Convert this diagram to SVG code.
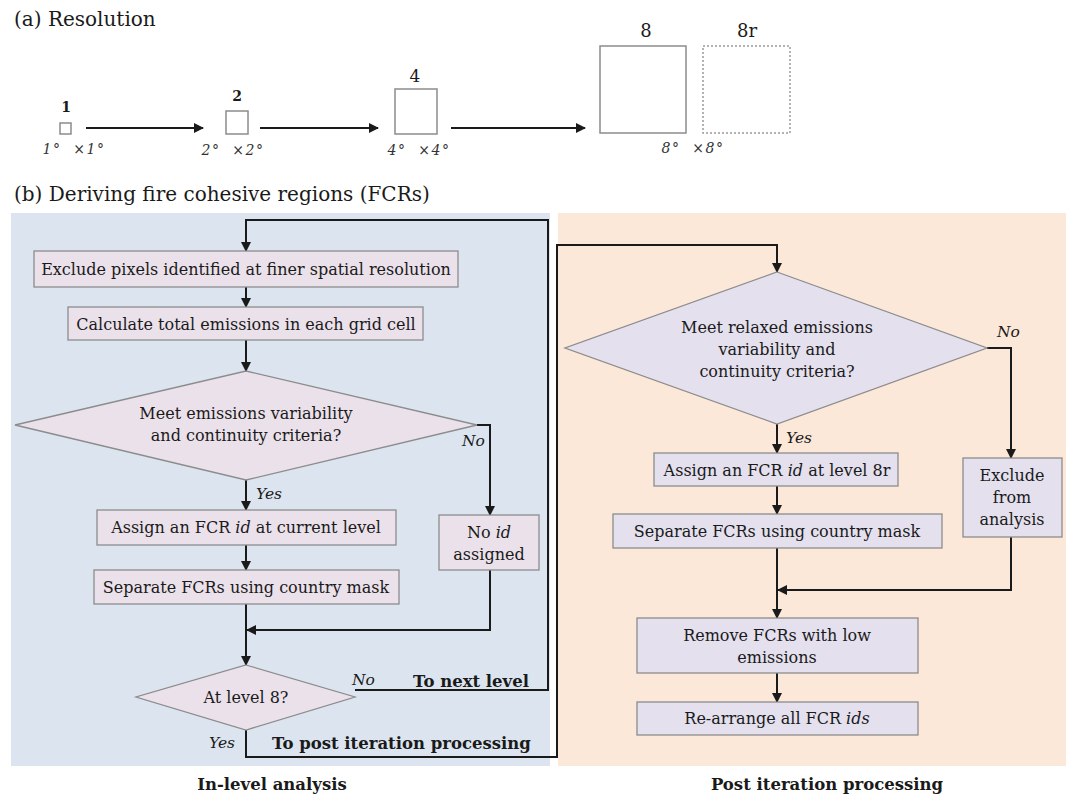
<svg xmlns="http://www.w3.org/2000/svg" width="1073" height="796" viewBox="0 0 1073 796">
<style>
text{font-family:"DejaVu Serif","Liberation Serif",serif;fill:#1a1a1a}
.t{font-size:16px;text-anchor:middle}
.b{font-size:16.5px;font-weight:bold}
.i{font-style:italic}
.lab{font-size:15.5px;font-style:italic}
.box{stroke:#8c8c8c;stroke-width:1.3}
.lb{fill:#ebe1eb}
.rb{fill:#e4e0ee}
.ln{fill:none;stroke:#1a1a1a;stroke-width:2}
.sq{fill:#fff;stroke:#8c8c8c;stroke-width:1.5}
.res{font-size:14px;font-style:italic;fill:#333;text-anchor:middle;letter-spacing:1.5px;word-spacing:6px}
</style>
<defs>
<marker id="ah" viewBox="0 0 10 10" refX="9" refY="5" markerWidth="5" markerHeight="5" orient="auto" markerUnits="strokeWidth">
<path d="M0,0 L10,5 L0,10 z" fill="#1a1a1a"/>
</marker>
</defs>
<rect width="1073" height="796" fill="#fff"/>

<!-- (a) Resolution -->
<g id="resolution">
<text x="14" y="26" font-size="20">(a) Resolution</text>
<rect class="sq" x="60" y="123" width="11" height="11"/>
<text x="66" y="112" font-size="14" font-weight="bold" text-anchor="middle">1</text>
<text class="res" x="74" y="154">1° ×1°</text>
<rect class="sq" x="226" y="111" width="22" height="23"/>
<text x="237" y="101" font-size="14" font-weight="bold" text-anchor="middle">2</text>
<text class="res" x="233" y="155">2° ×2°</text>
<rect class="sq" x="395" y="89" width="42" height="45"/>
<text x="415" y="82" font-size="17" text-anchor="middle">4</text>
<text class="res" x="419" y="155">4° ×4°</text>
<rect class="sq" x="600" y="46" width="86" height="87"/>
<text x="646" y="37" font-size="18" text-anchor="middle">8</text>
<rect x="703" y="46" width="87" height="87" fill="#fff" stroke="#9a9a9a" stroke-width="1.5" stroke-dasharray="2,2"/>
<text x="747" y="37" font-size="18" text-anchor="middle">8r</text>
<text class="res" x="693" y="153">8° ×8°</text>
</g>
<g id="res-arrows">
<line class="ln" x1="86" y1="128" x2="203" y2="128" marker-end="url(#ah)"/>
<line class="ln" x1="260" y1="128" x2="378" y2="128" marker-end="url(#ah)"/>
<line class="ln" x1="451" y1="128" x2="585" y2="128" marker-end="url(#ah)"/>
</g>

<!-- (b) -->
<text x="14" y="201" font-size="20">(b) Deriving fire cohesive regions (FCRs)</text>
<g id="panels">
<rect x="11" y="213" width="539" height="553" fill="#dce5ef"/>
<rect x="558" y="213" width="508" height="553" fill="#fce8d9"/>
</g>

<g id="connectors">
<polyline class="ln" points="355,690 548,690 548,220 246,220 246,251" marker-end="url(#ah)"/>
<line class="ln" x1="246" y1="287" x2="246" y2="307" marker-end="url(#ah)"/>
<line class="ln" x1="246" y1="340" x2="246" y2="371" marker-end="url(#ah)"/>
<line class="ln" x1="246" y1="480" x2="246" y2="510" marker-end="url(#ah)"/>
<polyline class="ln" points="477,425 490,425 490,515" marker-end="url(#ah)"/>
<line class="ln" x1="246" y1="545" x2="246" y2="570" marker-end="url(#ah)"/>
<line class="ln" x1="246" y1="604" x2="246" y2="665" marker-end="url(#ah)"/>
<polyline class="ln" points="490,570 490,630 247,630" marker-end="url(#ah)"/>
<polyline class="ln" points="246,730 246,757 557,757 557,245 777,245 777,272" marker-end="url(#ah)"/>
<line class="ln" x1="777" y1="424" x2="777" y2="453" marker-end="url(#ah)"/>
<polyline class="ln" points="987,348 1011,348 1011,458" marker-end="url(#ah)"/>
<line class="ln" x1="777" y1="486" x2="777" y2="514" marker-end="url(#ah)"/>
<line class="ln" x1="777" y1="548" x2="777" y2="618" marker-end="url(#ah)"/>
<polyline class="ln" points="1011,537 1011,590 778,590" marker-end="url(#ah)"/>
<line class="ln" x1="777" y1="673" x2="777" y2="702" marker-end="url(#ah)"/>
</g>

<g id="n-exclude">
<rect class="box lb" x="34" y="251" width="424" height="36"/>
<text class="t" x="246" y="275">Exclude pixels identified at finer spatial resolution</text>
</g>
<g id="n-calc">
<rect class="box lb" x="68" y="307" width="355" height="33"/>
<text class="t" x="246" y="330">Calculate total emissions in each grid cell</text>
</g>
<g id="n-meet">
<polygon class="box lb" points="246,371 477,425 246,480 15,425"/>
<text class="t" x="246" y="419">Meet emissions variability</text>
<text class="t" x="246" y="441">and continuity criteria?</text>
</g>
<g id="n-assign">
<rect class="box lb" x="97" y="510" width="299" height="35"/>
<text class="t" x="246" y="533">Assign an FCR <tspan class="i">id</tspan> at current level</text>
</g>
<g id="n-noid">
<rect class="box lb" x="439" y="515" width="100" height="55"/>
<text class="t" x="489" y="538">No <tspan class="i">id</tspan></text>
<text class="t" x="489" y="560">assigned</text>
</g>
<g id="n-separate">
<rect class="box lb" x="94" y="570" width="305" height="34"/>
<text class="t" x="246" y="593">Separate FCRs using country mask</text>
</g>
<g id="n-level8">
<polygon class="box lb" points="246,665 355,697 246,730 136,697"/>
<text class="t" x="246" y="703">At level 8?</text>
</g>

<g id="n-relaxed">
<polygon class="box rb" points="777,272 987,348 777,424 565,348"/>
<text class="t" x="777" y="333">Meet relaxed emissions</text>
<text class="t" x="777" y="355">variability and</text>
<text class="t" x="777" y="377">continuity criteria?</text>
</g>
<g id="n-assign8r">
<rect class="box rb" x="654" y="453" width="244" height="33"/>
<text class="t" x="777" y="476">Assign an FCR <tspan class="i">id</tspan> at level 8r</text>
</g>
<g id="n-exclude-analysis">
<rect class="box rb" x="963" y="458" width="99" height="79"/>
<text class="t" x="1012" y="481">Exclude</text>
<text class="t" x="1012" y="503">from</text>
<text class="t" x="1012" y="525">analysis</text>
</g>
<g id="n-separate2">
<rect class="box rb" x="613" y="514" width="329" height="34"/>
<text class="t" x="777" y="537">Separate FCRs using country mask</text>
</g>
<g id="n-remove">
<rect class="box rb" x="637" y="618" width="281" height="55"/>
<text class="t" x="777" y="641">Remove FCRs with low</text>
<text class="t" x="777" y="663">emissions</text>
</g>
<g id="n-rearrange">
<rect class="box rb" x="637" y="702" width="281" height="33"/>
<text class="t" x="777" y="724">Re-arrange all FCR <tspan class="i">ids</tspan></text>
</g>

<g id="labels">
<text class="lab" x="462" y="446">No</text>
<text class="lab" x="256" y="499">Yes</text>
<text class="lab" x="352" y="685">No</text>
<text class="b" x="413" y="687">To next level</text>
<text class="lab" x="209" y="748">Yes</text>
<text class="b" x="272" y="749">To post iteration processing</text>
<text class="lab" x="997" y="337">No</text>
<text class="lab" x="786" y="443">Yes</text>
<text class="b" x="272" y="790" text-anchor="middle">In-level analysis</text>
<text class="b" x="827" y="790" text-anchor="middle">Post iteration processing</text>
</g>
</svg>
